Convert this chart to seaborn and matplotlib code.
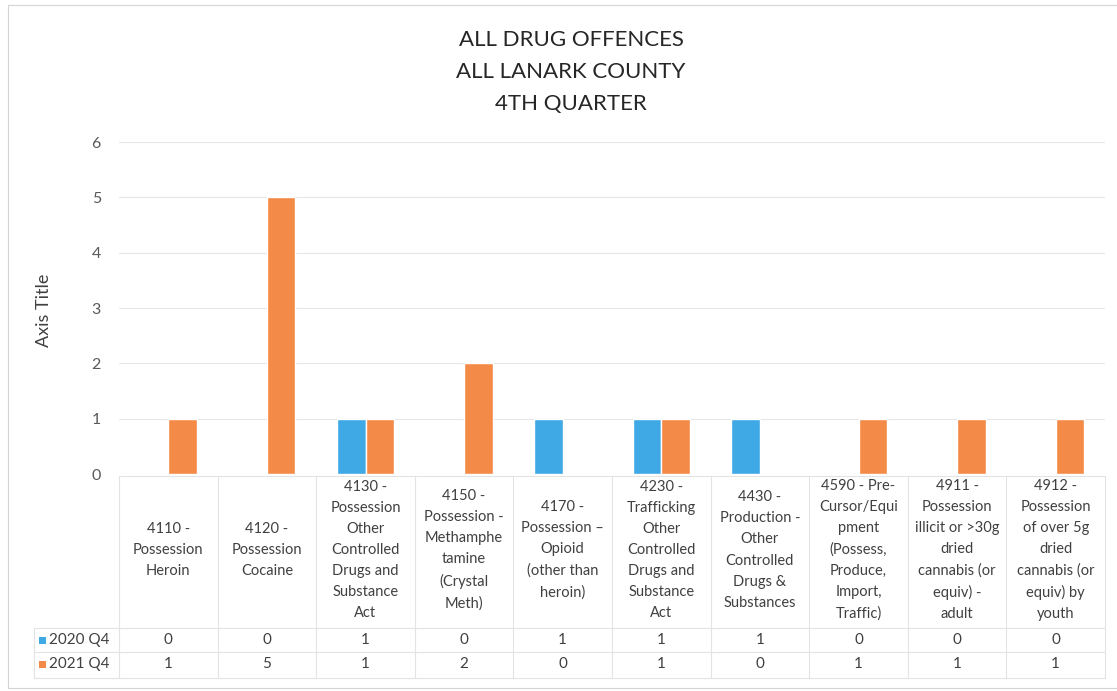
import matplotlib
matplotlib.use("Agg")
import matplotlib.pyplot as plt
import seaborn as sns
import pandas as pd
from matplotlib.transforms import blended_transform_factory
from matplotlib.lines import Line2D
from matplotlib.patches import Rectangle

# ---- data ----
offences = [
    "4110 -\nPossession\nHeroin",
    "4120 -\nPossession\nCocaine",
    "4130 -\nPossession\nOther\nControlled\nDrugs and\nSubstance\nAct",
    "4150 -\nPossession -\nMethamphe\ntamine\n(Crystal\nMeth)",
    "4170 -\nPossession \u2013\nOpioid\n(other than\nheroin)",
    "4230 -\nTrafficking\nOther\nControlled\nDrugs and\nSubstance\nAct",
    "4430 -\nProduction -\nOther\nControlled\nDrugs &\nSubstances",
    "4590 - Pre-\nCursor/Equi\npment\n(Possess,\nProduce,\nImport,\nTraffic)",
    "4911 -\nPossession\nillicit or >30g\ndried\ncannabis (or\nequiv) -\nadult",
    "4912 -\nPossession\nof over 5g\ndried\ncannabis (or\nequiv) by\nyouth",
]
periods = ["2020 Q4", "2021 Q4"]
q4_2020 = [0, 0, 1, 0, 1, 1, 1, 0, 0, 0]
q4_2021 = [1, 5, 1, 2, 0, 1, 0, 1, 1, 1]
title_lines = ["ALL DRUG OFFENCES", "ALL LANARK COUNTY", "4TH QUARTER"]
y_ticks = [0, 1, 2, 3, 4, 5, 6]

colors = ["#3FA9E6", "#F48A48"]

df = pd.DataFrame({
    "offence": offences * 2,
    "period": [periods[0]] * len(offences) + [periods[1]] * len(offences),
    "count": q4_2020 + q4_2021,
})

sns.set_theme(style="white")
plt.rcParams["font.family"] = ["Lato", "DejaVu Sans"]

W, H = 1117, 691
fig = plt.figure(figsize=(W / 100, H / 100), dpi=100)
fig.patch.set_facecolor("white")

def fx(px):
    return px / W

def fy(py):
    return 1 - py / H

ax = fig.add_axes([fx(119), fy(474), fx(1105) - fx(119), fy(142) - fy(474)])
sns.barplot(data=df, x="offence", y="count", hue="period", hue_order=periods,
            palette=colors, width=0.58, gap=0, saturation=1, legend=False,
            ax=ax, zorder=3)

ax.set_xlim(-0.5, len(offences) - 0.5)
ax.set_ylim(0, 6)
ax.set_yticks(y_ticks)
ax.set_yticklabels([str(t) for t in y_ticks], fontsize=11.5, color="#595959")
ax.tick_params(axis="y", length=0, pad=13)
ax.set_xticks([])
ax.set_xlabel("")
ax.set_ylabel("Axis Title", fontsize=13, color="#404040")
ax.yaxis.set_label_coords(-0.068, 0.494)
ax.yaxis.grid(True, color="#e6e6e6", linewidth=0.8, zorder=0)
for s in ax.spines.values():
    s.set_visible(False)

# ---- title ----
fig.text(fx(571), fy(72), "\n".join(title_lines), ha="center", va="center",
         fontsize=16, color="#262626", linespacing=1.72)

# ---- data table ----
tr = blended_transform_factory(ax.transData, fig.transFigure)
line_c = "#e3e3e3"
n = len(offences)
top, mid, row_sep, bottom = fy(476), fy(628), fy(652), fy(678)
for k in range(n + 1):
    fig.add_artist(Line2D([k - 0.5, k - 0.5], [top, bottom], transform=tr,
                          color=line_c, lw=0.8))
fig.add_artist(Line2D([-0.5, n - 0.5], [top, top], transform=tr, color=line_c, lw=0.8))
for yy in (mid, row_sep, bottom):
    fig.add_artist(Line2D([fx(34), fx(1105)], [yy, yy], transform=fig.transFigure,
                          color=line_c, lw=0.8))
fig.add_artist(Line2D([fx(34), fx(34)], [mid, bottom], transform=fig.transFigure,
                      color=line_c, lw=0.8))

for i, label in enumerate(offences):
    fig.text(i, fy(550), label, transform=tr, ha="center", va="center",
             fontsize=10.5, color="#404040", linespacing=1.64)

rows = [q4_2020, q4_2021]
row_y = [fy(640), fy(664)]
for r, (vals, yy, name, col) in enumerate(zip(rows, row_y, periods, colors)):
    fig.add_artist(Rectangle((fx(39), yy - 3.5 / H), 7 / W, 7 / H,
                             transform=fig.transFigure, facecolor=col, edgecolor="none"))
    fig.text(fx(49), yy, name, ha="left", va="center", fontsize=11, color="#404040")
    for i, v in enumerate(vals):
        fig.text(i, yy, str(v), transform=tr, ha="center", va="center",
                 fontsize=11, color="#404040")

# ---- outer frame ----
frame_c = "#d4d4d4"
fig.add_artist(Line2D([fx(8), fx(8)], [fy(5), fy(688)], transform=fig.transFigure, color=frame_c, lw=0.8))
fig.add_artist(Line2D([fx(8), fx(1117)], [fy(5), fy(5)], transform=fig.transFigure, color=frame_c, lw=0.8))
fig.add_artist(Line2D([fx(8), fx(1117)], [fy(688), fy(688)], transform=fig.transFigure, color=frame_c, lw=0.8))

fig.savefig("out.png", dpi=100, facecolor="white")
